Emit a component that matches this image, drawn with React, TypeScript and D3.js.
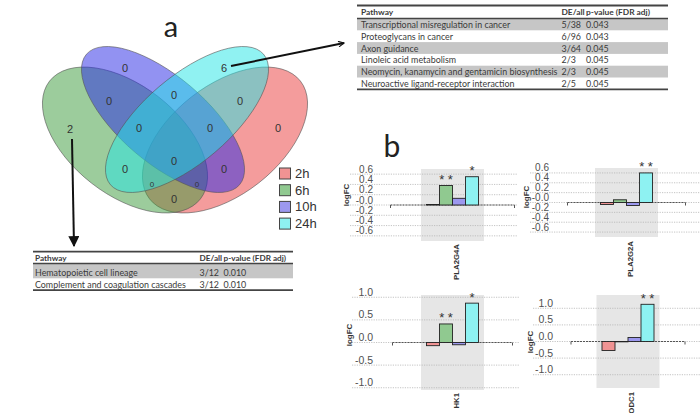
import React from "react";
import * as d3 from "d3";

// ---------- data ----------
const categories = ["2h", "6h", "10h", "24h"];
const seriesColors = ["#f09393", "#90c990", "#9c98ef", "#8ef2f2"];
const vennFills = ["#e93939", "#399939", "#2525e5", "#21e5e5"]; // 2h, 6h, 10h, 24h

const genes = ["PLA2G4A", "PLA2G2A", "HK1", "ODC1"];
const pla2g4a = [0.01, 0.38, 0.13, 0.55];
const pla2g2a = [-0.04, 0.055, -0.06, 0.6];
const hk1 = [-0.07, 0.41, -0.05, 0.87];
const odc1 = [-0.27, -0.01, 0.12, 1.12];
const starsPla2g4a = ["", "**", "", "*"];
const starsPla2g2a = ["", "", "", "**"];
const starsHk1 = ["", "**", "", "*"];
const starsOdc1 = ["", "", "", "**"];

const topTicks = [0.6, 0.4, 0.2, 0, -0.2, -0.4, -0.6];
const topTickLabels = ["0.6", "0.4", "0.2", "-0.0", "-0.2", "-0.4", "-0.6"];
const bottomTicks = [1, 0.5, 0, -0.5, -1];
const bottomTickLabels = ["1.0", "0.5", "0.0", "-0.5", "-1.0"];

// Venn region counts (10h, 24h, 6h, 2h, 6h∩10h, 10h∩24h, 24h∩2h, 6h∩10h∩24h, 10h∩24h∩2h, all, 6h∩24h, 10h∩2h, 6h∩24h∩2h, 6h∩10h∩2h, 6h∩2h)
const vennCounts = [0, 6, 2, 0, 0, 0, 0, 0, 0, 0, 0, 0, 0, 0, 0];

const table1Pathways = [
  "Transcriptional misregulation in cancer",
  "Proteoglycans in cancer",
  "Axon guidance",
  "Linoleic acid metabolism",
  "Neomycin, kanamycin and gentamicin biosynthesis",
  "Neuroactive ligand-receptor interaction",
];
const table1DE = ["5/38", "6/96", "3/64", "2/3", "2/3", "2/5"];
const table1P = ["0.043", "0.043", "0.045", "0.045", "0.045", "0.045"];

const table2Pathways = ["Hematopoietic cell lineage", "Complement and coagulation cascades"];
const table2DE = ["3/12", "3/12"];
const table2P = ["0.010", "0.010"];

// ---------- layout ----------
const vennLabelPos: [number, number, number][] = [
  [125, 68, 11], [224, 68, 11], [70, 129, 11], [278, 128, 11],
  [109, 101, 11], [174, 95, 11], [240, 101, 11],
  [139, 128, 11], [210, 128, 11], [174, 161, 11],
  [125, 169, 11], [224, 169, 11], [152, 184, 8], [197, 184, 8], [174, 199, 11],
];
// ellipses: order of drawing 2h, 6h, 10h, 24h
const ellipses = [
  { cx: 225, cy: 140, rx: 95.7, ry: 54.6, rot: -38, color: 0 },
  { cx: 125, cy: 140, rx: 95.7, ry: 54.6, rot: 38, color: 1 },
  { cx: 163, cy: 119.5, rx: 100.6, ry: 43.1, rot: 40.4, color: 2 },
  { cx: 187, cy: 119.5, rx: 100.6, ry: 43.1, rot: -40.4, color: 3 },
];

const panels = [
  { gene: genes[0], values: pla2g4a, stars: starsPla2g4a, cx: 452.5, top: 169, bottom: 241, domain: [-0.7, 0.7], ticks: topTicks, tickLabels: topTickLabels, labelRight: 373, gridX: [350, 518], axisHalf: 62, logX: 347, logY: 195, fs: 10, labelDy: 0 },
  { gene: genes[1], values: pla2g2a, stars: starsPla2g2a, cx: 626.5, top: 168, bottom: 237, domain: [-0.7, 0.7], ticks: topTicks, tickLabels: topTickLabels, labelRight: 549, gridX: [530, 700], axisHalf: 59, logX: 527, logY: 197, fs: 10, labelDy: 1 },
  { gene: genes[2], values: hk1, stars: starsHk1, cx: 452.5, top: 295, bottom: 390, domain: [-1.05, 1.05], ticks: bottomTicks, tickLabels: bottomTickLabels, labelRight: 373, gridX: [352, 520], axisHalf: 60, logX: 350, logY: 335, fs: 10.5, labelDy: 0 },
  { gene: genes[3], values: odc1, stars: starsOdc1, cx: 628, top: 295, bottom: 388, domain: [-1.4, 1.4], ticks: bottomTicks, tickLabels: bottomTickLabels, labelRight: 553, gridX: [533, 700], axisHalf: 57, logX: 531, logY: 342, fs: 10.5, labelDy: 1 },
];

const chartFont = "'Liberation Sans', Arial, sans-serif";
const tableFont = "Lato, 'Open Sans', sans-serif";

function Panel({ p }: { p: any }) {
  const y = d3.scaleLinear().domain(p.domain).range([p.bottom, p.top]);
  const x = d3.scaleBand().domain(categories).range([p.cx - 26, p.cx + 26]).padding(0);
  const y0 = y(0);
  return (
    <g>
      <rect x={p.cx - 31.5} y={p.top} width={63} height={p.bottom - p.top} fill="#e6e6e6" />
      {p.ticks.map((t: number, i: number) => (
        <line key={"g" + i} x1={p.gridX[0]} x2={p.gridX[1]} y1={y(t)} y2={y(t)} stroke="#b5b5b5" strokeWidth={0.8} strokeDasharray="1.2,1.2" />
      ))}
      {p.ticks.map((t: number, i: number) => (
        <text key={"t" + i} x={p.labelRight} y={y(t) - 1.5} textAnchor="end" fontSize={p.fs} fill="#505050" fontFamily={chartFont}>
          {p.tickLabels[i]}
        </text>
      ))}
      <line x1={p.cx - p.axisHalf} x2={p.cx + p.axisHalf} y1={y0} y2={y0} stroke="#555" strokeWidth={1} strokeDasharray="2,1" />
      <line x1={p.cx - p.axisHalf} x2={p.cx - p.axisHalf} y1={y0} y2={y0 + 3} stroke="#555" strokeWidth={1} />
      <line x1={p.cx + p.axisHalf} x2={p.cx + p.axisHalf} y1={y0} y2={y0 + 3} stroke="#555" strokeWidth={1} />
      {categories.map((c, i) => {
        const v = p.values[i];
        const yv = y(v);
        return (
          <rect key={c} x={x(c)} y={Math.min(yv, y0)} width={x.bandwidth()} height={Math.abs(yv - y0)} fill={seriesColors[i]} stroke="#222" strokeWidth={0.9} />
        );
      })}
      {categories.map((c, i) =>
        p.stars[i] ? (
          <text key={"s" + c} x={(x(c) as number) + x.bandwidth() / 2} y={y(Math.max(0, p.values[i])) - 1.5} textAnchor="middle" fontSize={13} fill="#333" fontFamily={chartFont}>
            {p.stars[i].split("").join(" ")}
          </text>
        ) : null
      )}
      <text transform={`translate(${p.logX},${p.logY}) rotate(-90)`} textAnchor="middle" fontSize={8} fontWeight="bold" fill="#333" fontFamily={chartFont} dominantBaseline="middle">
        logFC
      </text>
      <text transform={`translate(${p.cx + 4},${p.bottom + 3 + p.labelDy}) rotate(-90)`} textAnchor="end" fontSize={7.8} fontWeight="bold" fill="#333" fontFamily={chartFont} dominantBaseline="middle">
        {p.gene}
      </text>
    </g>
  );
}

function Table({ x0, x1, top, headerH, rowH, firstRowExtra, cols, pathways, de, pv, fs, hfs }: any) {
  const headerLine = top + headerH;
  const rowTop = (i: number) => headerLine + (i === 0 ? 0 : firstRowExtra + i * rowH);
  const rowHeight = (i: number) => (i === 0 ? rowH + firstRowExtra : rowH);
  const bottom = rowTop(pathways.length);
  return (
    <g fontFamily={tableFont} fontSize={fs} fill="#3a3a3a">
      {pathways.map((_: string, i: number) =>
        i % 2 === 0 ? <rect key={"r" + i} x={x0} y={rowTop(i)} width={x1 - x0} height={rowHeight(i)} fill="#c6c6c6" /> : null
      )}
      <line x1={x0} x2={x1} y1={top} y2={top} stroke="#444" strokeWidth={1.8} />
      <line x1={x0} x2={x1} y1={headerLine} y2={headerLine} stroke="#444" strokeWidth={1.5} />
      <line x1={x0} x2={x1} y1={bottom} y2={bottom} stroke="#444" strokeWidth={1.8} />
      <g fontWeight="bold" fontSize={hfs}>
        <text x={cols[0]} y={top + headerH / 2} dominantBaseline="central">Pathway</text>
        <text x={cols[1]} y={top + headerH / 2} dominantBaseline="central">DE/all</text>
        <text x={cols[2]} y={top + headerH / 2} dominantBaseline="central">p-value (FDR adj)</text>
      </g>
      {pathways.map((pw: string, i: number) => {
        const cy = rowTop(i) + rowHeight(i) / 2 + (i === 0 ? firstRowExtra / 2 : 0);
        return (
          <g key={"t" + i}>
            <text x={cols[0]} y={cy} dominantBaseline="central">{pw}</text>
            <text x={cols[1]} y={cy} dominantBaseline="central">{de[i]}</text>
            <text x={cols[2]} y={cy} dominantBaseline="central">{pv[i]}</text>
          </g>
        );
      })}
    </g>
  );
}

export default function App() {
  return (
    <svg width={700} height={413} viewBox="0 0 700 413" style={{ position: "absolute", left: 0, top: 0, background: "#fff" }}>
      <defs>
        <marker id="open" viewBox="0 0 10 10" refX="9" refY="5" markerWidth="7" markerHeight="7" orient="auto" markerUnits="userSpaceOnUse">
          <path d="M1,1 L9,5 L1,9" fill="none" stroke="#111" strokeWidth={1.6} />
        </marker>
        <marker id="filled" viewBox="0 0 10 10" refX="9" refY="5" markerWidth="11" markerHeight="11" orient="auto" markerUnits="userSpaceOnUse">
          <path d="M0,0 L10,5 L0,10 Z" fill="#111" />
        </marker>
      </defs>
      <rect width={700} height={413} fill="#fff" />

      {/* Venn */}
      <text x={171} y={37} textAnchor="middle" fontSize={29} fill="#222" fontFamily={tableFont}>a</text>
      {ellipses.map((e, i) => (
        <ellipse key={i} cx={0} cy={0} rx={e.rx} ry={e.ry} transform={`translate(${e.cx},${e.cy}) rotate(${e.rot})`} fill={vennFills[e.color]} fillOpacity={0.5} stroke="#555" strokeOpacity={0.7} strokeWidth={0.8} />
      ))}
      {vennCounts.map((c, i) => (
        <text key={i} x={vennLabelPos[i][0]} y={vennLabelPos[i][1]} textAnchor="middle" dominantBaseline="central" fontSize={vennLabelPos[i][2]} fill="#333" fontFamily={chartFont}>
          {c}
        </text>
      ))}

      {/* legend */}
      {categories.map((c, i) => (
        <g key={c}>
          <rect x={279.5} y={168 + i * 16.7} width={11} height={11} fill={seriesColors[i]} stroke="#444" strokeWidth={1} />
          <text x={295} y={168 + i * 16.7 + 10} fontSize={13} fill="#333" fontFamily={chartFont}>{c}</text>
        </g>
      ))}

      {/* arrows */}
      <line x1={231} y1={66} x2={344} y2={43} stroke="#111" strokeWidth={2} markerEnd="url(#open)" />
      <line x1={72} y1={139} x2={74} y2={246} stroke="#111" strokeWidth={2} markerEnd="url(#filled)" />

      {/* tables */}
      <Table x0={357} x1={668} top={5.5} headerH={13} rowH={11.8} firstRowExtra={0} cols={[361, 561.5, 586]} pathways={table1Pathways} de={table1DE} pv={table1P} fs={8.9} hfs={8.4} />
      <Table x0={33} x1={293} top={251.7} headerH={11.8} rowH={11.8} firstRowExtra={3} cols={[35, 199.5, 223.5]} pathways={table2Pathways} de={table2DE} pv={table2P} fs={8.9} hfs={8.2} />

      {/* panel b */}
      <text x={392} y={157} textAnchor="middle" fontSize={30} fill="#222" fontFamily={tableFont}>b</text>
      {panels.map((p, i) => (
        <Panel key={i} p={p} />
      ))}
    </svg>
  );
}
